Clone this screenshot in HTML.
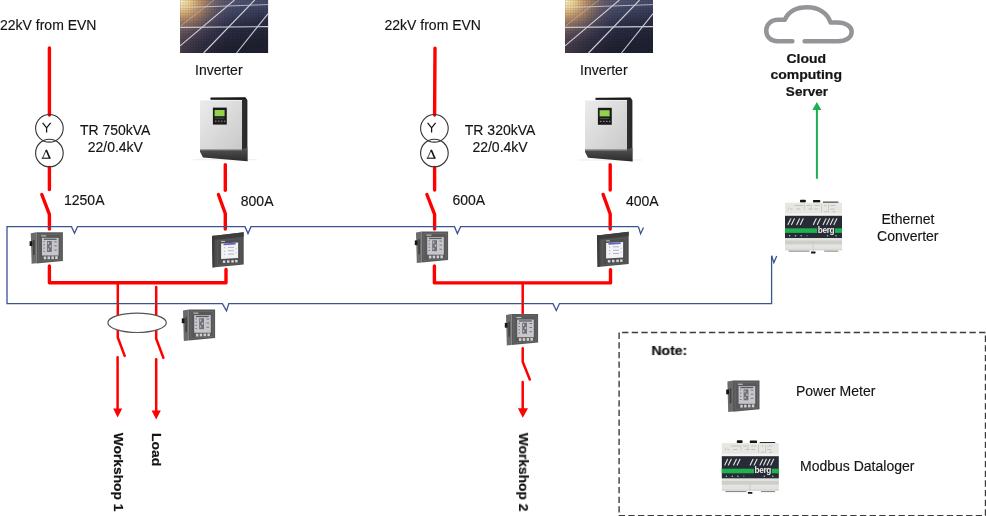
<!DOCTYPE html>
<html><head><meta charset="utf-8">
<style>
html,body{margin:0;padding:0;background:#fff;width:986px;height:516px;overflow:hidden}
svg{display:block;will-change:transform}
text{font-family:"Liberation Sans",sans-serif;font-size:14px;fill:#141414;stroke:#141414;stroke-width:0.15}
.b{font-weight:bold;stroke:#141414;stroke-width:0.22}
</style></head><body>
<svg width="986" height="516" viewBox="0 0 986 516">
<defs>
  <linearGradient id="pnl" x1="0" y1="0" x2="0.3" y2="1">
    <stop offset="0" stop-color="#62667f"/>
    <stop offset="0.4" stop-color="#3e4362"/>
    <stop offset="0.62" stop-color="#2b2e46"/>
    <stop offset="1" stop-color="#1f2131"/>
  </linearGradient>
  <radialGradient id="glow" gradientUnits="userSpaceOnUse" cx="0" cy="0" r="50" gradientTransform="scale(1.05 0.9)">
    <stop offset="0" stop-color="#fff6c8" stop-opacity="1"/>
    <stop offset="0.2" stop-color="#f6d490" stop-opacity="0.95"/>
    <stop offset="0.45" stop-color="#d09a62" stop-opacity="0.7"/>
    <stop offset="0.75" stop-color="#8a6a60" stop-opacity="0.25"/>
    <stop offset="1" stop-color="#5a5060" stop-opacity="0"/>
  </radialGradient>
  <linearGradient id="ltint" x1="0" y1="0" x2="1" y2="0.25">
    <stop offset="0" stop-color="#9a7460" stop-opacity="0.55"/>
    <stop offset="0.45" stop-color="#7a6070" stop-opacity="0.15"/>
    <stop offset="0.7" stop-color="#7a6070" stop-opacity="0"/>
  </linearGradient>
  <pattern id="cells" width="2.6" height="2.6" patternUnits="userSpaceOnUse">
    <path d="M0 0.4H2.6M0.4 0V2.6" stroke="#000" stroke-opacity="0.12" stroke-width="0.7"/>
  </pattern>
  <g id="panel">
    <rect x="0" y="0" width="88" height="53" fill="url(#pnl)"/>
    <rect x="0" y="0" width="88" height="53" fill="url(#ltint)"/>
    <rect x="0" y="0" width="88" height="53" fill="url(#glow)"/>
    <rect x="0" y="0" width="88" height="53" fill="url(#cells)"/>
    <g stroke="#cdced6" stroke-width="1.1" fill="none">
      <line x1="0" y1="7.6" x2="88" y2="4.6" stroke-width="1" stroke-opacity="0.8"/>
      <line x1="0" y1="27.4" x2="88" y2="26.6"/>
      <line x1="0" y1="45.8" x2="54.4" y2="0"/>
      <line x1="23.5" y1="53" x2="74.6" y2="0"/>
      <line x1="56.5" y1="53" x2="88" y2="13.6"/>
      <line x1="0.5" y1="26" x2="34" y2="0" stroke-width="0.8" stroke-opacity="0.6"/>
    </g>
  </g>
  <linearGradient id="silver" x1="0" y1="0" x2="1" y2="1">
    <stop offset="0" stop-color="#ececec"/>
    <stop offset="1" stop-color="#c9c9c9"/>
  </linearGradient>
  <linearGradient id="invside" x1="0" y1="0" x2="1" y2="0">
    <stop offset="0" stop-color="#6a6a6a"/>
    <stop offset="1" stop-color="#262626"/>
  </linearGradient>
  <linearGradient id="invbot" x1="0" y1="0" x2="0" y2="1">
    <stop offset="0" stop-color="#555555"/>
    <stop offset="1" stop-color="#2c2c2c"/>
  </linearGradient>
  <g id="inverter">
    <rect x="-7" y="62.2" width="64" height="0.8" fill="#e8e8e8"/>
    <polygon points="10.6,0.6 45.2,0 46.6,1.5 47.4,3 47.4,64 42,61.5 42,2.8 10.6,2.8" fill="url(#invside)"/>
    <rect x="10.6" y="0.4" width="35" height="1.8" fill="#1a1a1a"/>
    <rect x="0" y="2.8" width="42" height="49.4" fill="url(#silver)"/>
    <rect x="0" y="2.8" width="42" height="0.8" fill="#f4f4f4"/>
    <polygon points="0,52.2 42,52.2 47.4,50 47.4,64 3,60.3 0,54.5" fill="url(#invbot)"/>
    <rect x="0" y="52.2" width="42" height="0.9" fill="#9a9a9a"/>
    <rect x="12.9" y="10.4" width="13.9" height="17" fill="#1c1c1c"/>
    <rect x="14.6" y="12.8" width="10" height="6.2" fill="#93d24c"/>
    <g fill="#888"><rect x="15" y="23.4" width="1.5" height="1.2"/><rect x="18" y="23.4" width="1.5" height="1.2"/><rect x="21" y="23.4" width="1.5" height="1.2"/><rect x="24" y="23.4" width="1.2" height="1.2"/></g>
    <rect x="15" y="20.6" width="9" height="0.8" fill="#555"/>
  </g>
  <g id="meterA">
    <polygon points="1,1.2 6.6,0.3 6.6,31.2 1.8,31.8" fill="#6b6b6b"/>
    <rect x="3.3" y="8" width="1.6" height="15" fill="#404040"/>
    <rect x="-0.2" y="9.2" width="2.8" height="4.8" fill="#161616"/>
    <polygon points="6.6,0.3 33.1,0.3 33.1,28.9 6.6,31.4" fill="#585858"/>
    <polygon points="8.8,2.3 31.2,2.3 31.2,27.4 8.8,29.3" fill="none" stroke="#696969" stroke-width="0.8"/>
    <rect x="12.2" y="5.9" width="16.6" height="17.6" fill="#c6c6cc"/>
    <rect x="14" y="6.6" width="12.8" height="1.3" fill="#5a5a5e"/>
    <g fill="#707076">
      <rect x="13.5" y="9.2" width="1.5" height="0.9"/><rect x="13.5" y="12.4" width="1.5" height="0.9"/><rect x="13.5" y="15.6" width="1.5" height="0.9"/><rect x="13.5" y="18.8" width="1.5" height="0.9"/>
      <rect x="17.2" y="9" width="4.8" height="11"/>
      <rect x="24.4" y="9.4" width="2.6" height="0.9"/><rect x="24.4" y="13.4" width="2.6" height="0.9"/><rect x="24.4" y="17.6" width="2.6" height="0.9"/>
    </g>
    <g fill="#c6c6cc"><rect x="18" y="10.2" width="1.2" height="2"/><rect x="19.8" y="13.4" width="1.4" height="2"/><rect x="18" y="16.6" width="1.2" height="1.6"/></g>
    <rect x="11.4" y="3.4" width="5" height="1" fill="#d0d0d0"/>
    <g fill="#d0d0d0"><rect x="13.9" y="24.5" width="2.5" height="2.8"/><rect x="17.7" y="24.4" width="2.5" height="2.8"/><rect x="21.6" y="24.3" width="2.5" height="2.8"/><rect x="25.4" y="24.2" width="2.5" height="2.8"/></g>
  </g>
  <g id="meterB">
    <polygon points="0,3.6 31.7,0 31.7,32.2 0.6,35.2" fill="#4e4e4e"/>
    <polygon points="0,3.6 31.7,0 31.7,4.2 0,7.8" fill="#3e3e3e"/>
    <polygon points="0,3.6 2.4,3.3 2.4,35 0.6,35.2" fill="#3a3a3a"/><polygon points="5.5,8.6 29,6.2 29,31 5.5,33.2" fill="none" stroke="#5e5e5e" stroke-width="0.7"/>
    <polygon points="9.1,11.2 26.1,10.2 26.1,25.8 9.1,26.6" fill="#f3f3f7"/>
    <polygon points="11.5,11.1 23.6,10.4 23.6,12.2 11.5,12.9" fill="#6060c8"/>
    <g fill="#a9abbd"><rect x="12" y="15" width="1.2" height="0.9"/><rect x="16" y="14.6" width="6" height="0.9"/><rect x="12" y="18.4" width="1.2" height="0.9"/><rect x="16" y="18" width="6" height="0.9"/><rect x="12" y="21.6" width="1.2" height="0.9"/><rect x="16" y="21.3" width="6" height="0.9"/><rect x="23.6" y="16" width="1" height="0.9"/><rect x="23.6" y="20" width="1" height="0.9"/></g>
    <rect x="9" y="8.6" width="4" height="1" fill="#bdbdbd"/>
    <g fill="#d6d6d6"><rect x="10.8" y="28.2" width="2.5" height="2.5"/><rect x="15" y="28" width="2.5" height="2.5"/><rect x="19.3" y="27.8" width="2.5" height="2.5"/><rect x="23.1" y="27.6" width="2.5" height="2.5"/></g>
  </g>
  <g id="berg">
    <rect x="15.6" y="0.8" width="5.8" height="2.8" rx="0.8" fill="#141414"/>
    <rect x="28.6" y="1" width="7.2" height="2.6" rx="0.6" fill="#141414"/>
    <rect x="38.5" y="2.6" width="15.5" height="1.3" fill="#2a2a2a"/>
    <rect x="0.6" y="3.7" width="57" height="13.1" fill="#e6e6e3"/>
    <rect x="0.6" y="14.4" width="57" height="2.4" fill="#f3f3f1"/>
    <g fill="#b9b9b9">
      <rect x="10" y="6.2" width="9" height="0.8"/><rect x="22" y="6.2" width="4" height="0.8"/><rect x="30" y="6.2" width="5" height="0.8"/><rect x="40" y="6.2" width="2" height="0.8"/><rect x="46" y="6.2" width="5" height="0.8"/>
      <rect x="6" y="9.6" width="2" height="0.8"/><rect x="12" y="9.6" width="4" height="0.8"/><rect x="24" y="9.6" width="4" height="0.8"/><rect x="30" y="9.6" width="4" height="0.8"/><rect x="46" y="9.6" width="4" height="0.8"/>
      <rect x="40" y="12.4" width="3" height="0.8"/><rect x="48" y="12.4" width="3" height="0.8"/>
      <rect x="4" y="8.5" width="0.6" height="2.5"/><rect x="19.5" y="5.5" width="0.6" height="5.5"/><rect x="26.5" y="5.5" width="0.6" height="5.5"/><rect x="37" y="5.5" width="0.6" height="8"/><rect x="44" y="5.5" width="0.6" height="8"/>
    </g>
    <rect x="0.6" y="16.8" width="57" height="22.4" fill="#272b36"/>
    <g stroke="#e6e6e0" stroke-width="1.1" stroke-linecap="round">
      <line x1="3.6" y1="25.6" x2="6.4" y2="19.8"/><line x1="7.2" y1="25.6" x2="10" y2="19.8"/><line x1="12.4" y1="25.6" x2="15.2" y2="19.8"/><line x1="16" y1="25.6" x2="18.8" y2="19.8"/>
      <line x1="29" y1="25.6" x2="31.8" y2="19.8"/><line x1="33" y1="25.6" x2="35.8" y2="19.8"/>
      <line x1="38.8" y1="25.6" x2="41.6" y2="19.8"/><line x1="42.4" y1="25.6" x2="45.2" y2="19.8"/><line x1="46" y1="25.6" x2="48.8" y2="19.8"/><line x1="49.6" y1="25.6" x2="52.4" y2="19.8"/>
    </g>
    <g fill="#e8a050"><circle cx="6" cy="20.4" r="0.6"/><circle cx="15" cy="20.4" r="0.6"/><circle cx="41.3" cy="20.4" r="0.6"/><circle cx="44.8" cy="20.4" r="0.6"/></g>
    <rect x="0.6" y="29.3" width="32.3" height="4.6" fill="#20b24c"/>
    <rect x="50.3" y="29.3" width="7.3" height="4.6" fill="#20b24c"/>
    <rect x="32.9" y="28.2" width="17.4" height="6.4" fill="#272b36"/><text x="33.4" y="33.5" style="font-size:8.2px;font-weight:bold;fill:#eeeeee;stroke:none;letter-spacing:-0.35px">berg</text>
    <g fill="#9fd8a6"><circle cx="5.2" cy="36.8" r="0.75"/><circle cx="11.1" cy="36.8" r="0.75"/><circle cx="16.7" cy="36.8" r="0.75"/><circle cx="43.1" cy="36.8" r="0.75"/><circle cx="51.6" cy="36.8" r="0.75"/></g>
    <circle cx="22.6" cy="36.8" r="0.7" fill="#777"/>
    <rect x="0.6" y="39.2" width="57" height="12.1" fill="#e3e3e0"/>
    <rect x="0.6" y="41.5" width="57" height="3.8" fill="#cdcdca"/>
    <rect x="0.6" y="49.8" width="57" height="1.5" fill="#d6d6d3"/>
    <rect x="28.4" y="45" width="0.6" height="7" fill="#bbb"/>
    <rect x="4.2" y="51.6" width="21" height="1.1" fill="#8a8a8a"/><rect x="39.8" y="51.6" width="14" height="1.1" fill="#8a8a8a"/><rect x="26.6" y="52.6" width="4.6" height="1.8" rx="0.6" fill="#141414"/>
  </g>
</defs>

<!-- red power lines -->
<g fill="none" stroke="#ff0000" stroke-width="3.4" stroke-linecap="round" stroke-linejoin="round">
  <line x1="49.4" y1="48" x2="49.4" y2="115"/>
  <line x1="49.4" y1="167.4" x2="49.4" y2="189.6"/>
  <polyline points="41.8,194.5 49.4,214.3 49.4,229"/>
  <polyline points="49.4,266 49.4,282.8 226,282.8 226,269.5"/>
  <line x1="225.3" y1="164.6" x2="225.3" y2="190.3"/>
  <polyline points="218.4,194.5 225.3,213.5 225.3,229"/>

  <line x1="435" y1="48.2" x2="434.6" y2="115"/>
  <line x1="434.6" y1="167.4" x2="434.6" y2="190"/>
  <polyline points="426.9,194.5 434.6,214.3 434.6,229"/>
  <polyline points="434.4,266 434.4,282.9 610.5,282.9 610.5,269.6"/>
  <line x1="610.2" y1="164.6" x2="610.2" y2="190"/>
  <polyline points="603.1,194.4 610.2,214 610.2,229"/>
</g>
<g fill="none" stroke="#ff0000" stroke-width="2.5" stroke-linecap="round" stroke-linejoin="round">
  <polyline points="117.8,282.8 117.8,337.5 124.7,355.9"/>
  <line x1="117.6" y1="357.3" x2="117.6" y2="410"/>
  <polyline points="156.2,287.1 156.2,338.8 163.4,357.8"/>
  <line x1="156.2" y1="359.2" x2="156.2" y2="412"/>
  <polyline points="522.7,282.9 522.7,313"/>
  <polyline points="522.7,348.2 522.7,361.7 529.8,379.5"/>
  <line x1="522.7" y1="382" x2="522.7" y2="410"/>
</g>
<g fill="#ff0000">
  <polygon points="113.2,408.4 122.2,408.4 117.6,417.4"/>
  <polygon points="151.6,410.4 160.8,410.4 156.2,419.6"/>
  <polygon points="517.9,408.3 528,408.3 522.8,417.8"/>
</g>

<!-- blue comm lines -->
<g fill="none" stroke="#3b5491" stroke-width="1.3" stroke-linejoin="miter">
  <polyline points="638.4,226.7 460.6,226.7 457.4,233.6 454.5,226.7 251,226.7 248,233.6 245,226.7 77.5,226.7 74.5,233.2 71.5,226.7 7,226.7 7,303.6 222.4,303.6 226.5,310.9 228.8,303.6 553,303.6 556.3,310.5 559.5,303.6 771.6,303.6 771.6,255.7"/>
  <polyline points="638.4,226.7 640.6,233.7 643.5,227.5"/>
  <polyline points="771.6,255.7 773.9,262.6 776.7,256.1"/>
</g>

<!-- transformers -->
<g fill="none" stroke="#333" stroke-width="1.1">
  <circle cx="49.4" cy="128.3" r="13.8"/>
  <circle cx="49.4" cy="153" r="13.8"/>
  <circle cx="434.4" cy="128.3" r="13.8"/>
  <circle cx="434.4" cy="153" r="13.8"/>
</g>
<g id="yd" fill="none" stroke="#111">
  <path d="M42.6 122.9 L46.6 127.8 L50.6 122.9 M46.6 127.8 V132.5" stroke-width="1.25"/>
  <path d="M42.5 158.3 L46.2 150" stroke-width="0.8"/>
  <path d="M46.2 149.9 L49.8 158.3" stroke-width="1.6"/>
  <path d="M41.8 158.2 H50.6" stroke-width="1.1"/>
</g>
<use href="#yd" x="385" y="0"/>

<!-- ellipse CT -->
<ellipse cx="137.1" cy="322.8" rx="29.2" ry="9.7" fill="#fff" stroke="#555" stroke-width="1.2"/>

<!-- green arrow -->
<line x1="816.9" y1="108" x2="816.9" y2="178.8" stroke="#19b04f" stroke-width="2"/>
<polygon points="812.3,110 821.4,110 816.9,102" fill="#19b04f"/>

<!-- cloud -->
<path d="M792.4 41.3 H777.5 C770.5 41.3 766.2 36.5 766.2 30.5 C766.2 24.3 771.2 19.8 778 19.8 H784.8 C788.5 11.5 797 7.3 807.2 7.3 C818.6 7.3 827.5 13 830.6 22.6 L837.5 22.6 C845.6 22.6 851.7 26.5 851.7 31.8 C851.7 37.5 846 41.3 838 41.3 H804.6" fill="none" stroke="#939598" stroke-width="4.5" stroke-linecap="round" stroke-linejoin="round"/>

<!-- dashed note box -->
<g fill="none" stroke="#3c3c3c" stroke-width="1.4" stroke-dasharray="6.3 3.35">
  <path d="M622.1 332.5 H988"/>
  <path d="M985.5 335.6 V518"/>
  <path d="M619.1 332.6 V518"/>
  <path d="M618.7 515.6 H988"/>
</g>

<!-- images -->
<use href="#panel" x="180.1" y="0"/>
<use href="#panel" x="565" y="0"/>
<use href="#inverter" x="200" y="97.2"/>
<use href="#inverter" x="585" y="97.4"/>
<use href="#meterA" x="29.8" y="232"/>
<use href="#meterA" x="415" y="231.2"/>
<use href="#meterA" x="182" y="309.2"/>
<use href="#meterA" x="505" y="313.7"/>
<use href="#meterA" x="726.4" y="380.3"/>
<use href="#meterB" x="212" y="232.3"/>
<use href="#meterB" x="597" y="231.8"/>
<use href="#berg" x="784.4" y="199"/>
<use href="#berg" x="721.2" y="439.4"/>

<!-- texts -->
<text x="0" y="30.4">22kV from EVN</text>
<text x="384.5" y="30.4">22kV from EVN</text>
<text x="195.1" y="74.6">Inverter</text>
<text x="580.1" y="75">Inverter</text>
<text x="79.9" y="134.8">TR 750kVA</text>
<text x="87.7" y="151.5">22/0.4kV</text>
<text x="464.8" y="135.3">TR 320kVA</text>
<text x="472.4" y="151.5">22/0.4kV</text>
<text x="64" y="205">1250A</text>
<text x="240.8" y="205.8">800A</text>
<text x="452.4" y="205">600A</text>
<text x="626" y="205.7">400A</text>
<text class="b" transform="translate(806.2 62.6) scale(1 0.91)" text-anchor="middle">Cloud</text>
<text class="b" transform="translate(806.2 78.7) scale(1 0.91)" text-anchor="middle">computing</text>
<text class="b" transform="translate(806.9 96.3) scale(0.965 0.91)" text-anchor="middle">Server</text>
<text x="908" y="223.8" text-anchor="middle">Ethernet</text>
<text x="907.8" y="240.8" text-anchor="middle">Converter</text>
<text class="b" transform="translate(651.5 355.1) scale(1 0.91)">Note:</text>
<text x="796" y="396.1">Power Meter</text>
<text x="800" y="471.3">Modbus Dataloger</text>
<text class="b" transform="translate(114 432.8) rotate(90) scale(0.985 0.91)">Workshop 1</text>
<text class="b" transform="translate(151.5 433) rotate(90) scale(1 0.91)">Load</text>
<text class="b" transform="translate(519 432.8) rotate(90) scale(0.985 0.91)">Workshop 2</text>
</svg>
</body></html>
